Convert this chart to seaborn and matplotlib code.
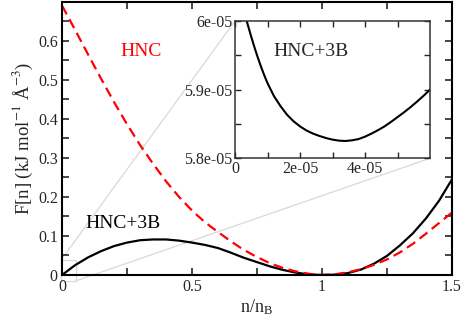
import numpy as np
import pandas as pd
import matplotlib
matplotlib.use('Agg')
import matplotlib.pyplot as plt
import seaborn as sns
from matplotlib.patches import Rectangle, ConnectionPatch
from matplotlib.ticker import MultipleLocator, FormatStrFormatter, FuncFormatter

# data
n_ratio = [0.0, 0.05, 0.1, 0.15, 0.2, 0.25, 0.3, 0.35, 0.4, 0.45, 0.5,
           0.55, 0.6, 0.65, 0.7, 0.75, 0.8, 0.85, 0.9, 0.95, 1.0,
           1.05, 1.1, 1.15, 1.2, 1.25, 1.3, 1.35, 1.4, 1.45, 1.5]
f_hnc = [0.69, 0.628, 0.565, 0.503, 0.443, 0.386, 0.333, 0.285, 0.240, 0.200, 0.165,
         0.135, 0.110, 0.086, 0.064, 0.046, 0.030, 0.018, 0.009, 0.003, 0.0,
         0.0018, 0.007, 0.015, 0.026, 0.040, 0.058, 0.080, 0.106, 0.133, 0.160]
f_hnc3b = [0.0, 0.025, 0.045, 0.061, 0.074, 0.083, 0.089, 0.091, 0.091, 0.088, 0.083,
           0.077, 0.069, 0.057, 0.044, 0.033, 0.022, 0.013, 0.006, 0.0015, 0.0,
           0.001, 0.005, 0.014, 0.029, 0.049, 0.076, 0.107, 0.145, 0.190, 0.245]

# inset (zoom near origin), x and F in units of 1e-5
n_small = [0.36, 0.5, 0.6, 0.7, 0.8, 0.9, 1.0, 1.2, 1.4, 1.6, 1.8, 2.0, 2.2, 2.4,
           2.6, 2.8, 3.0, 3.2, 3.4, 3.6, 3.8, 4.0, 4.2, 4.4, 4.6, 4.8, 5.0, 5.2,
           5.4, 5.6, 5.8, 6.0]
f_small = [6.000, 5.977, 5.9615, 5.947, 5.9335, 5.921, 5.9095, 5.8905, 5.876, 5.8635,
           5.854, 5.8465, 5.8405, 5.836, 5.8325, 5.8295, 5.8272, 5.8257, 5.8252,
           5.8262, 5.828, 5.8315, 5.836, 5.841, 5.8465, 5.853, 5.860, 5.867,
           5.8745, 5.8825, 5.891, 5.900]

df = pd.DataFrame({'n': n_ratio, 'HNC': f_hnc, 'HNC+3B': f_hnc3b})
df_in = pd.DataFrame({'n': np.array(n_small) * 1e-5, 'F': np.array(f_small) * 1e-5})

sns.set_style('ticks')
plt.rcParams['font.family'] = ['Liberation Serif', 'DejaVu Serif']
plt.rcParams['mathtext.fontset'] = 'stix'

fig = plt.figure(figsize=(4.63, 3.16), dpi=100)
ax = fig.add_axes([62/463, 41/316, 390/463, 273/316])

sns.lineplot(data=df, x='n', y='HNC+3B', color='black', lw=1.6, ax=ax)
sns.lineplot(data=df, x='n', y='HNC', color='red', lw=1.6, ax=ax,
             linestyle=(0, (4.5, 2.5)))

ax.set_xlim(0, 1.5)
ax.set_ylim(0, 0.699)
ax.xaxis.set_major_locator(MultipleLocator(0.5))
ax.xaxis.set_minor_locator(MultipleLocator(0.25))
ax.yaxis.set_major_locator(MultipleLocator(0.1))
ax.yaxis.set_minor_locator(MultipleLocator(0.05))
fmt = FuncFormatter(lambda v, p: '%g' % round(v, 3))
ax.xaxis.set_major_formatter(fmt)
ax.yaxis.set_major_formatter(fmt)
ax.tick_params(which='both', direction='in', top=True, right=True,
               width=1.2, length=5, labelsize=11.5, pad=3)
for s in ax.spines.values():
    s.set_linewidth(1.5)
    s.set_color('black')

ax.set_xlabel('n/n$_\\mathregular{B}$', fontsize=13, labelpad=2)
ax.set_ylabel('F[n] (kJ mol$^{-1}$ Å$^{-3}$)', fontsize=13.5, labelpad=2)

ax.text(0.304, 0.572, 'HNC', color='red', fontsize=14, ha='center', va='center')
ax.text(0.236, 0.133, 'HNC+3B', color='black', fontsize=14, ha='center', va='center')

# inset
axin = fig.add_axes([235/463, (316-158.3)/316, 195/463, 137.3/316])
sns.lineplot(data=df_in, x='n', y='F', color='black', lw=1.5, ax=axin)
axin.set_xlim(0, 6e-5)
axin.set_ylim(5.8e-5, 6.0e-5)
axin.set_xticks([0, 2e-5, 4e-5])
axin.set_xticks([1e-5, 3e-5, 5e-5], minor=True)
axin.set_yticks([5.8e-5, 5.9e-5, 6.0e-5])
axin.set_yticks([5.85e-5, 5.95e-5], minor=True)
axin.xaxis.set_major_formatter(FormatStrFormatter('%g'))
axin.yaxis.set_major_formatter(FormatStrFormatter('%g'))
axin.set_xlabel('')
axin.set_ylabel('')
axin.tick_params(which='both', direction='in', top=True, right=True,
                 length=4, width=1.0, labelsize=11.5, pad=2)
for s in axin.spines.values():
    s.set_linewidth(1.1)
    s.set_color('#333333')
axin.text(2.33e-5, 5.956e-5, 'HNC+3B', fontsize=14, ha='center', va='center')

# zoom indicator
grey = '#d9d9d9'
box = Rectangle((-0.004, -0.015), 0.058, 0.053, fill=False, ec=grey, lw=0.9,
                clip_on=False, zorder=0)
ax.add_patch(box)
for a, b in [((-0.004, 0.038), (0, 1)), ((0.054, -0.015), (1, 0))]:
    con = ConnectionPatch(xyA=a, coordsA=ax.transData, xyB=b, coordsB=axin.transAxes,
                          color=grey, lw=0.9, zorder=0)
    ax.add_artist(con)

fig.savefig('out.png', dpi=100)
